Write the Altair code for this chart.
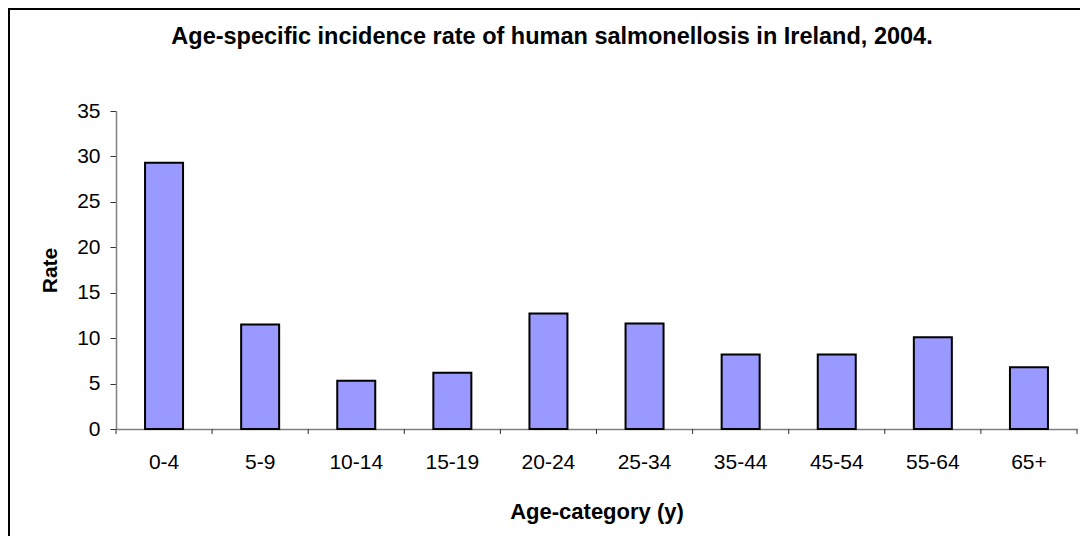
import altair as alt
import pandas as pd

categories = ["0-4", "5-9", "10-14", "15-19", "20-24", "25-34", "35-44", "45-54", "55-64", "65+"]
rates = [29.3, 11.5, 5.3, 6.2, 12.7, 11.6, 8.2, 8.2, 10.1, 6.8]
y_ticks = [0, 5, 10, 15, 20, 25, 30, 35]
title_text = "Age-specific incidence rate of human salmonellosis in Ireland, 2004."

df = pd.DataFrame({"age": categories, "rate": rates})

FONT = "Liberation Sans"
W, H = 961, 318

x_axis = alt.Axis(
    title="Age-category (y)", labelAngle=0, ticks=False,
    domainColor="#808080", domainWidth=1.5,
    labelFont=FONT, labelFontSize=21, labelColor="black", labelPadding=22,
    titleFont=FONT, titleFontSize=22, titleFontWeight="bold", titleColor="black",
    titlePadding=29,
)
x_scale = alt.Scale(paddingInner=0, paddingOuter=0)

bars = alt.Chart(df).mark_bar(size=38, color="#9999FF", stroke="black", strokeWidth=2).encode(
    x=alt.X("age:N", sort=categories, scale=x_scale, axis=x_axis),
    y=alt.Y("rate:Q", scale=alt.Scale(domain=[0, 35], nice=False),
            axis=alt.Axis(values=y_ticks, title="Rate", grid=False, tickSize=6,
                          tickColor="#333333", domainColor="#808080", domainWidth=1.5,
                          labelFont=FONT, labelFontSize=21, labelColor="black", labelPadding=10,
                          titleFont=FONT, titleFontSize=21, titleFontWeight="bold",
                          titleColor="black", titlePadding=16)),
)

xticks = alt.Chart(df).mark_rule(color="#333333", strokeWidth=1).encode(
    x=alt.X("age:N", sort=categories, scale=x_scale, axis=x_axis, bandPosition=0),
    y=alt.value(H), y2=alt.value(H + 5),
)
xtick_end = alt.Chart(df).transform_filter(alt.datum.age == "65+").mark_rule(
    color="#333333", strokeWidth=1).encode(
    x=alt.X("age:N", sort=categories, scale=x_scale, axis=x_axis, bandPosition=1),
    y=alt.value(H), y2=alt.value(H + 5),
)

title_df = pd.DataFrame({"t": [title_text]})
title = alt.Chart(title_df).mark_text(
    font=FONT, fontSize=23.5, fontWeight="bold", color="black",
    align="center", baseline="alphabetic",
).encode(text="t:N", x=alt.value(436), y=alt.value(-67.5))

border_left = alt.Chart(df).mark_rule(color="black", strokeWidth=1.5).encode(
    x=alt.value(-107.2), y=alt.value(-102.2), y2=alt.value(H + 150),
)
border_top = alt.Chart(df).mark_rule(color="black", strokeWidth=1.5).encode(
    x=alt.value(-108), x2=alt.value(W + 50), y=alt.value(-102.2),
)

chart = alt.layer(bars, xticks, xtick_end, title, border_left, border_top).properties(
    width=W, height=H,
    padding={"left": 108, "top": 103, "right": 3, "bottom": 107},
    autosize=alt.AutoSizeParams(type="none"),
).configure_view(stroke=None)

chart.save("out.html", embed_options={"renderer": "svg", "actions": False})
